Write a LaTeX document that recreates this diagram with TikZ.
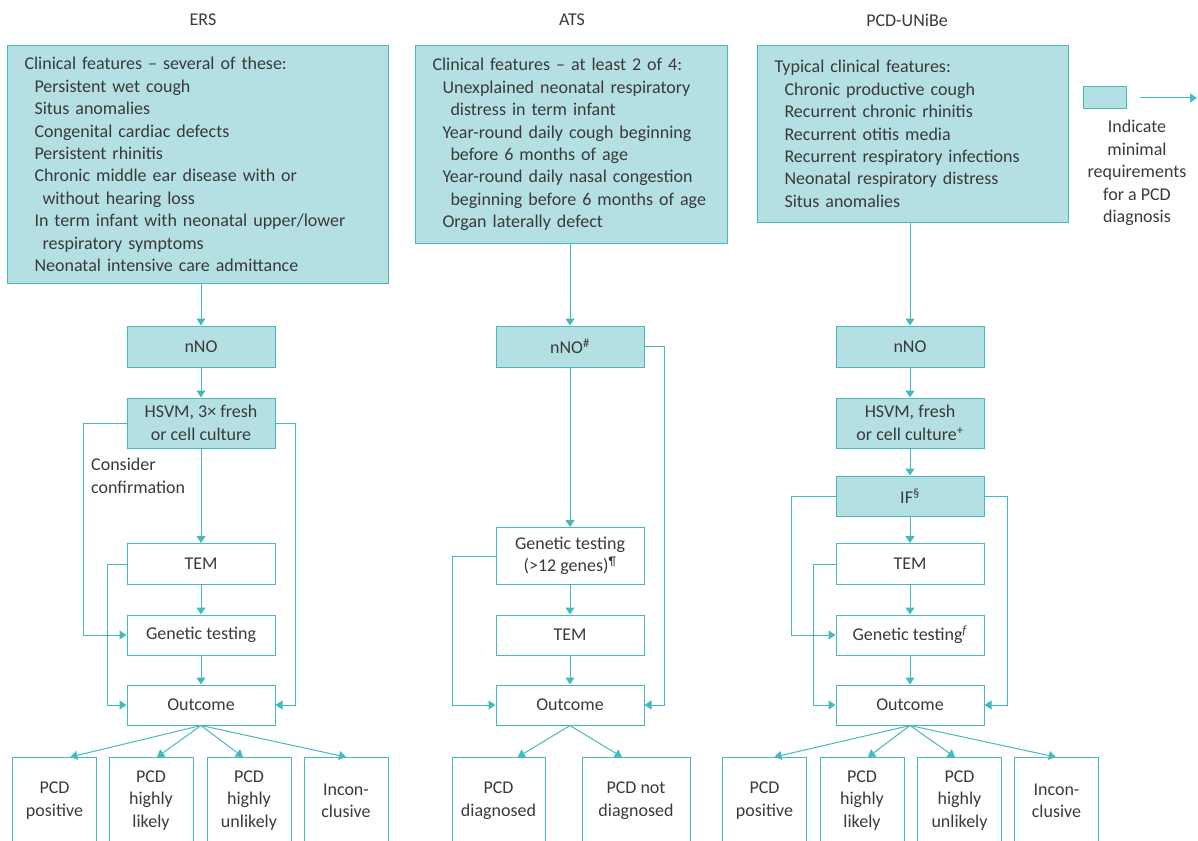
\documentclass[tikz,border=0pt]{standalone}
\usepackage{fontspec}
\setmainfont{Carlito}
\usepackage{xcolor}
\usepackage{tikz}
\usetikzlibrary{arrows.meta, positioning}
\definecolor{tealline}{HTML}{45B9BE}
\definecolor{tealfill}{HTML}{B4DFE3}
\definecolor{txtgrey}{HTML}{3A3A3A}
\newcommand{\featitem}{\hspace*{10pt}}
\newcommand{\featcont}{\hspace*{18pt}}

\begin{document}
\begin{tikzpicture}[x=1pt, y=-1pt,
    every node/.style={font=\fontsize{18}{22.4}\selectfont, text=txtgrey},
    feat/.style={draw=tealline, fill=tealfill, line width=1pt, anchor=north west, align=left, inner xsep=17pt, inner ysep=0pt},
    fillbox/.style={draw=tealline, fill=tealfill, line width=1pt, minimum width=148pt, align=center, inner sep=0pt},
    openbox/.style={draw=tealline, fill=white, line width=1pt, minimum width=148pt, align=center, inner sep=0pt},
    endbox/.style={draw=tealline, line width=1pt, anchor=north, minimum width=84pt, minimum height=86pt, align=center, inner sep=0pt},
    arr/.style={draw=tealline, line width=1pt, -{Triangle[length=7pt, width=9pt]}},
    link/.style={draw=tealline, line width=1pt}]
    \useasboundingbox (0,0) rectangle (1198,840);

        % titles
        \node (ersname) at (203,20) {ERS};
        \node (atsname) at (572,20) {ATS};
        \node (uniname) at (907,20) {PCD-UNiBe};

        % clinical feature boxes
        \node[feat, minimum width=381pt, minimum height=238pt, text width=347pt] (ersfeat) at (7,45) {Clinical features -- several of these:\\
            \featitem Persistent wet cough\\
            \featitem Situs anomalies\\
            \featitem Congenital cardiac defects\\
            \featitem Persistent rhinitis\\
            \featitem Chronic middle ear disease with or\\
            \featcont without hearing loss\\
            \featitem In term infant with neonatal upper/lower\\
            \featcont respiratory symptoms\\
            \featitem Neonatal intensive care admittance};
        \node[feat, minimum width=312pt, minimum height=198pt, text width=278pt] (atsfeat) at (415,45) {Clinical features -- at least 2 of 4:\\
            \featitem Unexplained neonatal respiratory\\
            \featcont distress in term infant\\
            \featitem Year-round daily cough beginning\\
            \featcont before 6 months of age\\
            \featitem Year-round daily nasal congestion\\
            \featcont beginning before 6 months of age\\
            \featitem Organ laterally defect};
        \node[feat, minimum width=311pt, minimum height=177pt, text width=277pt] (unifeat) at (757,45) {Typical clinical features:\\
            \featitem Chronic productive cough\\
            \featitem Recurrent chronic rhinitis\\
            \featitem Recurrent otitis media\\
            \featitem Recurrent respiratory infections\\
            \featitem Neonatal respiratory distress\\
            \featitem Situs anomalies};

        % legend
        \node[draw=tealline, fill=tealfill, line width=1pt, minimum width=43pt, minimum height=22pt] (legbox) at (1104.5,98) {};
        \coordinate (lega) at (1140,98);
        \coordinate (legb) at (1197,98);
        \draw[arr] (lega) -- (legb);
        \node[align=center] (legtext) at (1137,173) {Indicate\\minimal\\requirements\\for a PCD\\diagnosis};

        % ERS column
        \node[fillbox, minimum height=41pt] (ersnno) at (201,346.5) {nNO};
        \node[fillbox, minimum height=50pt] (ershsvm) at (201,423) {HSVM, 3× fresh\\or cell culture};
        \node[openbox, minimum height=41pt] (erstem) at (201,564) {TEM};
        \node[openbox, minimum height=40pt] (ersgen) at (201,635) {Genetic testing};
        \node[openbox, minimum height=40pt] (ersout) at (201,705) {Outcome};
        \node[anchor=west, align=left, inner sep=0pt] (ersnote) at (91,476) {Consider\\confirmation};
        \node[endbox] (ersp1) at (54.5,757) {PCD\\positive};
        \node[endbox] (ersp2) at (151,757) {PCD\\highly\\likely};
        \node[endbox] (ersp3) at (249,757) {PCD\\highly\\unlikely};
        \node[endbox] (ersp4) at (346,757) {Incon-\\clusive};

        \draw[arr] (ersnno.north |- ersfeat.south) -- (ersnno.north);
        \draw[arr] (ersnno) -- (ershsvm);
        \draw[arr] (ershsvm) -- (erstem);
        \draw[arr] (erstem) -- (ersgen);
        \draw[arr] (ersgen) -- (ersout);
        \draw[arr] (ershsvm.west) -- ++(-43,0) |- (ersgen.west);
        \draw[arr] (erstem.west) -- ++(-19,0) |- (ersout.west);
        \draw[arr] (ershsvm.east) -- ++(20,0) |- (ersout.east);
        \foreach \b/\a in {ersp1/70, ersp2/82, ersp3/98, ersp4/90}
            \draw[arr] (ersout.south) -- (\b.\a);

        % ATS column
        \node[fillbox, minimum height=41pt] (atsnno) at (570,346.5) {nNO\textsuperscript{\#}};
        \node[openbox, minimum height=57pt] (atsgen) at (570,556) {Genetic testing\\(>12 genes)\textsuperscript{¶}};
        \node[openbox, minimum height=40pt] (atstem) at (570,635) {TEM};
        \node[openbox, minimum height=40pt] (atsout) at (570,705) {Outcome};
        \node[endbox, minimum width=93pt] (atsd1) at (498.5,757) {PCD\\diagnosed};
        \node[endbox, minimum width=108pt] (atsd2) at (636,757) {PCD not\\diagnosed};

        \draw[arr] (atsnno.north |- atsfeat.south) -- (atsnno.north);
        \draw[arr] (atsnno) -- (atsgen);
        \draw[arr] (atsgen) -- (atstem);
        \draw[arr] (atstem) -- (atsout);
        \draw[arr] (atsnno.east) -- ++(20,0) |- (atsout.east);
        \draw[arr] (atsgen.west) -- ++(-43,0) |- (atsout.west);
        \draw[arr] (atsout.south) -- (atsd1.66);
        \draw[arr] (atsout.south) -- (atsd2.108);

        % PCD-UNiBe column
        \node[fillbox, minimum height=41pt] (uninno) at (910,346.5) {nNO};
        \node[fillbox, minimum height=50pt] (unihsvm) at (910,423) {HSVM, fresh\\or cell culture\textsuperscript{+}};
        \node[fillbox, minimum height=40pt] (uniif) at (910,496) {IF\textsuperscript{§}};
        \node[openbox, minimum height=41pt] (unitem) at (910,564) {TEM};
        \node[openbox, minimum height=40pt] (unigen) at (910,635) {Genetic testing\textsuperscript{\textit{f}}};
        \node[openbox, minimum height=40pt] (uniout) at (910,705) {Outcome};
        \node[endbox] (unip1) at (764.5,757) {PCD\\positive};
        \node[endbox] (unip2) at (862,757) {PCD\\highly\\likely};
        \node[endbox] (unip3) at (959.5,757) {PCD\\highly\\unlikely};
        \node[endbox] (unip4) at (1056.5,757) {Incon-\\clusive};

        \draw[arr] (uninno.north |- unifeat.south) -- (uninno.north);
        \draw[arr] (uninno) -- (unihsvm);
        \draw[arr] (unihsvm) -- (uniif);
        \draw[arr] (uniif) -- (unitem);
        \draw[arr] (unitem) -- (unigen);
        \draw[arr] (unigen) -- (uniout);
        \draw[arr] (uniif.west) -- ++(-44,0) |- (unigen.west);
        \draw[arr] (unitem.west) -- ++(-22,0) |- (uniout.west);
        \draw[arr] (uniif.east) -- ++(23,0) |- (uniout.east);
        \foreach \b/\a in {unip1/77, unip2/82, unip3/96, unip4/91}
            \draw[arr] (uniout.south) -- (\b.\a);
    \end{tikzpicture}
\end{document}
